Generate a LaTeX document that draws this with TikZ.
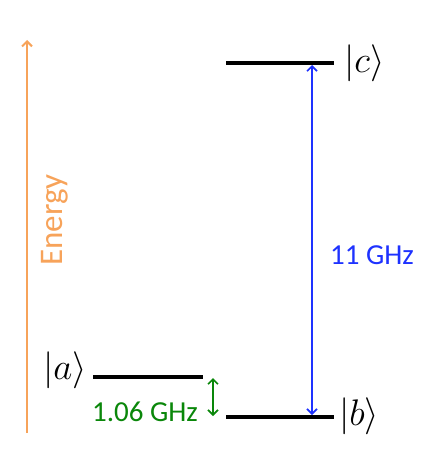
\documentclass[tikz,border=0pt]{standalone}
\usepackage{fix-cm}
\usepackage{amsmath}
\usepackage{fontspec}
\setsansfont{Carlito}
\usepackage{tikz}
\usetikzlibrary{positioning, arrows.meta}

\definecolor{energyorange}{RGB}{247,163,90}
\definecolor{lineblue}{RGB}{30,50,255}
\definecolor{linegreen}{RGB}{10,135,10}

\begin{document}
\begin{tikzpicture}[
  x=1pt, y=-1pt,
  >={Straight Barb[length=5pt, width=10pt]},
  level/.style={line width=3.8pt},
  ket/.style={font=\fontsize{37}{40}\selectfont, inner sep=0pt},
  trans/.style={<->, line width=1.6pt},
  freq/.style={font=\sffamily\fontsize{29}{32}\selectfont}
]
\useasboundingbox (0,0) rectangle (437,452);

% Energy axis
\coordinate (e0) at (27,433);
\coordinate (e1) at (27,40);
\draw[->, energyorange, line width=2pt] (e0) -- (e1);
\node[rotate=90, text=energyorange, font=\sffamily\fontsize{33}{35}\selectfont] (energy) at (55,220) {Energy};

% Levels
\coordinate (a1) at (93,377);  \coordinate (a2) at (203,377);
\coordinate (b1) at (226,417); \coordinate (b2) at (334,417);
\coordinate (c1) at (226,63);  \coordinate (c2) at (334,63);
\draw[level] (a1) -- (a2);
\draw[level] (b1) -- (b2);
\draw[level] (c1) -- (c2);

% State labels
\node[ket, anchor=east] (ka) at (87,370) {$|a\rangle$};
\node[ket, anchor=west] (kb) at (339,416) {$|b\rangle$};
\node[ket, anchor=west] (kc) at (344,63) {$|c\rangle$};

% Transitions
\coordinate (bt) at (312,415); \coordinate (ct) at (312,65);
\draw[trans, lineblue] (ct) -- (bt);
\node[freq, text=lineblue] (f11) at (372,255) {11 GHz};

\coordinate (ab) at (213,378); \coordinate (ba) at (213,416);
\draw[trans, linegreen] (ab) -- (ba);
\node[freq, text=linegreen] (f106) at (145,412) {1.06 GHz};

\end{tikzpicture}
\end{document}
